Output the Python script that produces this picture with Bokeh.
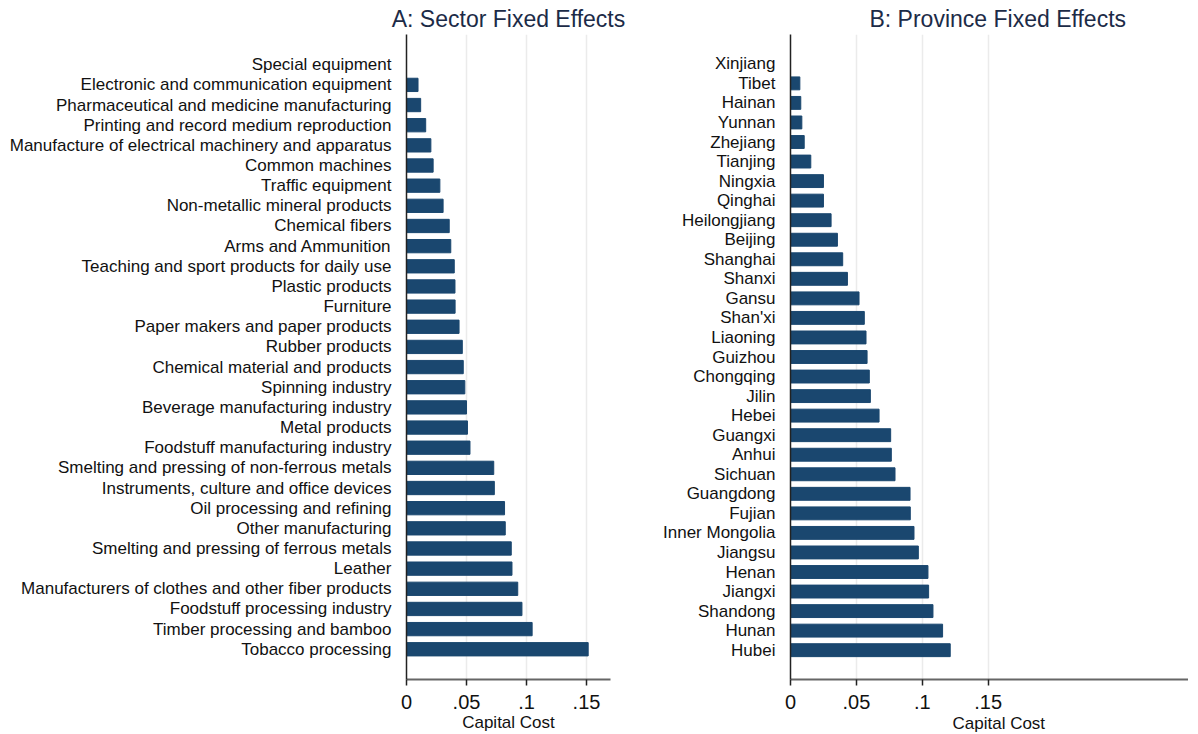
from bokeh.plotting import figure
from bokeh.models import FactorRange, FixedTicker, Range1d, Title
from bokeh.layouts import row
from bokeh.embed import file_html
from bokeh.resources import INLINE

sectors = [
    "Special equipment",
    "Electronic and communication equipment",
    "Pharmaceutical and medicine manufacturing",
    "Printing and record medium reproduction",
    "Manufacture of electrical machinery and apparatus",
    "Common machines",
    "Traffic equipment",
    "Non-metallic mineral products",
    "Chemical fibers",
    "Arms and Ammunition",
    "Teaching and sport products for daily use",
    "Plastic products",
    "Furniture",
    "Paper makers and paper products",
    "Rubber products",
    "Chemical material and products",
    "Spinning industry",
    "Beverage manufacturing industry",
    "Metal products",
    "Foodstuff manufacturing industry",
    "Smelting and pressing of non-ferrous metals",
    "Instruments, culture and office devices",
    "Oil processing and refining",
    "Other manufacturing",
    "Smelting and pressing of ferrous metals",
    "Leather",
    "Manufacturers of clothes and other fiber products",
    "Foodstuff processing industry",
    "Timber processing and bamboo",
    "Tobacco processing",
]
sector_fe = [
    0.0, 0.0096, 0.0118, 0.0160, 0.0203, 0.0222, 0.0278, 0.0305, 0.0356, 0.0369,
    0.0398, 0.0404, 0.0405, 0.0438, 0.0465, 0.0473, 0.0486, 0.0500, 0.0508, 0.0529,
    0.0727, 0.0732, 0.0817, 0.0823, 0.0873, 0.0879, 0.0927, 0.0962, 0.1047, 0.1514,
]

provinces = [
    "Xinjiang", "Tibet", "Hainan", "Yunnan", "Zhejiang", "Tianjing", "Ningxia",
    "Qinghai", "Heilongjiang", "Beijing", "Shanghai", "Shanxi", "Gansu", "Shan'xi",
    "Liaoning", "Guizhou", "Chongqing", "Jilin", "Hebei", "Guangxi", "Anhui",
    "Sichuan", "Guangdong", "Fujian", "Inner Mongolia", "Jiangsu", "Henan",
    "Jiangxi", "Shandong", "Hunan", "Hubei",
]
province_fe = [
    0.0, 0.0071, 0.0078, 0.0086, 0.0104, 0.0154, 0.0250, 0.0250, 0.0308, 0.0356,
    0.0396, 0.0432, 0.0520, 0.0560, 0.0573, 0.0581, 0.0598, 0.0606, 0.0672, 0.0760,
    0.0765, 0.0793, 0.0907, 0.0909, 0.0937, 0.0970, 0.1043, 0.1048, 0.1081, 0.1154,
    0.1212,
]

x_ticks = [0, 0.05, 0.1, 0.15]
x_tick_labels = {0: "0", 0.05: ".05", 0.1: ".1", 0.15: ".15"}
x_title = "Capital Cost"

FONT = "Liberation Sans"
BAR = "#1a476f"
TITLE_COLOR = "#1c2b47"


def panel(title, cats, vals, width, x_end, mb_left, mb_right, title_align,
          title_offset, xlabel_offset=None):
    p = figure(
        width=width, height=734,
        y_range=FactorRange(factors=list(reversed(cats)), range_padding=1.0,
                            range_padding_units="absolute"),
        x_range=Range1d(0, x_end),
        output_backend="svg", toolbar_location=None,
        min_border_left=mb_left, min_border_right=mb_right,
        min_border_top=34, min_border_bottom=54,
        title=title,
    )
    p.hbar(y=cats, right=vals, left=0, height=0.66, color=BAR)
    p.title.text_font = FONT
    p.title.text_font_size = "23px"
    p.title.text_font_style = "normal"
    p.title.text_color = TITLE_COLOR
    p.title.align = title_align
    p.title.offset = title_offset
    p.title.standoff = 5

    p.outline_line_color = None
    p.background_fill_color = "white"
    p.border_fill_color = "white"
    p.ygrid.grid_line_color = None
    p.xgrid.grid_line_color = "#ebebeb"
    p.xgrid.grid_line_width = 1.5

    xa = p.xaxis[0]
    xa.ticker = FixedTicker(ticks=x_ticks)
    xa.major_label_overrides = x_tick_labels
    xa.minor_tick_line_color = None
    xa.axis_line_color = "#666666"
    xa.axis_line_width = 2
    xa.major_tick_line_color = "#222222"
    xa.major_tick_line_width = 1.5
    xa.major_tick_out = 6
    xa.major_tick_in = 0
    xa.major_label_standoff = 9
    xa.major_label_text_font = FONT
    xa.major_label_text_font_size = "20px"
    xa.major_label_text_color = "#111111"
    if xlabel_offset is None:
        xa.axis_label = x_title
        xa.axis_label_text_font = FONT
        xa.axis_label_text_font_size = "17px"
        xa.axis_label_text_font_style = "normal"
        xa.axis_label_text_color = "#111111"
        xa.axis_label_standoff = 1
    else:
        t = Title(text=x_title, align="left", offset=xlabel_offset,
                  text_font=FONT, text_font_size="17px", text_font_style="normal",
                  text_color="#111111", standoff=0)
        p.add_layout(t, "below")

    ya = p.yaxis[0]
    ya.axis_line_color = "#222222"
    ya.axis_line_width = 1.5
    ya.major_tick_line_color = None
    ya.minor_tick_line_color = None
    ya.major_label_standoff = 9
    ya.major_label_text_font = FONT
    ya.major_label_text_font_size = "17px"
    ya.major_label_text_color = "#111111"
    return p


left = panel("A: Sector Fixed Effects", sectors, sector_fe, 640, 0.17, 406, 30, "center", 0)
right = panel("B: Province Fixed Effects", provinces, province_fe, 548, 0.302, 150, 0,
              "left", 79, xlabel_offset=162)

layout = row(left, right)
open("out.html", "w").write(file_html(layout, INLINE))
